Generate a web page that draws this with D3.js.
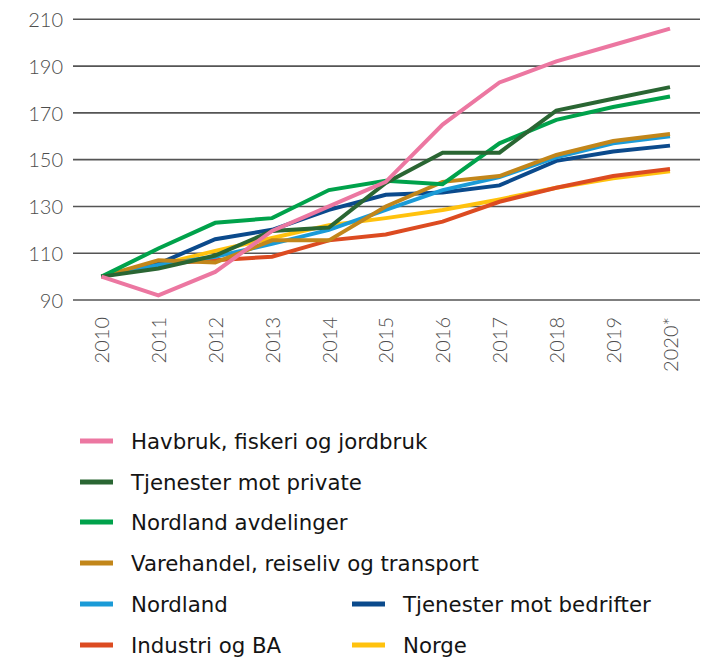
<!DOCTYPE html>
<html>
<head>
<meta charset="utf-8">
<script src="https://cdn.jsdelivr.net/npm/d3@7"></script>
<style>
  html, body { margin: 0; padding: 0; background: #fff; }
  svg { display: block; }
  .tick-label { font-family: Lato, "Open Sans", sans-serif; font-weight: 300; fill: #4d4d4d; }
  .legend-label { font-family: "DejaVu Sans", sans-serif; fill: #141414; }
</style>
</head>
<body>
<svg id="chart" width="709" height="658"></svg>
<script>
// Index series, 2010 = 100
const years = ["2010", "2011", "2012", "2013", "2014", "2015", "2016", "2017", "2018", "2019", "2020*"];
const yTicks = [90, 110, 130, 150, 170, 190, 210];

const havbruk    = [100, 92, 102, 119.5, 130, 140.5, 165, 183, 192, 199, 206];
const tjPrivate  = [100, 103.5, 109, 119.5, 121, 140, 153, 153, 171, 176, 181];
const nordAvd    = [100, 112, 123, 125, 137, 141, 139.5, 157, 167, 172.5, 177];
const varehandel = [100, 107, 106, 115.5, 115.5, 130, 140.5, 143, 152, 158, 161];
const nordland   = [100, 105, 108.5, 114, 120, 128.5, 137, 142.5, 151, 157, 160];
const tjBedrift  = [100, 105.5, 116, 120, 128.5, 135, 136, 139, 149.5, 153.5, 156];
const industri   = [100, 105.5, 107, 108.5, 115.5, 118, 123.5, 132, 138, 143, 146];
const norge      = [100, 105, 111, 116.5, 122, 125, 128.5, 133, 138, 142, 145];

const seriesNames = [
  "Havbruk, fiskeri og jordbruk",
  "Tjenester mot private",
  "Nordland avdelinger",
  "Varehandel, reiseliv og transport",
  "Nordland",
  "Tjenester mot bedrifter",
  "Industri og BA",
  "Norge"
];
const seriesValues = [havbruk, tjPrivate, nordAvd, varehandel, nordland, tjBedrift, industri, norge];
const seriesColors = ["#ec77a1", "#2a6633", "#00a24b", "#c2861a", "#1b9bd7", "#0b4a8c", "#dc4b21", "#ffc20e"];

const svg = d3.select("#chart");

const x = d3.scalePoint().domain(years).range([101.5, 670]);
const y = d3.scaleLinear().domain([90, 210]).range([300, 19.3]);

// Horizontal grid
const grid = svg.append("g");
grid.selectAll("line").data(yTicks).join("line")
  .attr("x1", 73).attr("x2", 700)
  .attr("y1", d => y(d)).attr("y2", d => y(d))
  .attr("stroke", "#555").attr("stroke-width", 1.6);

// Y axis labels
const yAxis = svg.append("g").attr("transform", "translate(73,0)")
  .call(d3.axisLeft(y).tickValues(yTicks).tickSize(0).tickPadding(10));
yAxis.select(".domain").remove();
yAxis.selectAll("text").attr("class", "tick-label").attr("font-size", 20).attr("dy", "0.36em");

// X axis labels, rotated
const xAxis = svg.append("g").attr("transform", "translate(0,300)")
  .call(d3.axisBottom(x).tickSize(0));
xAxis.select(".domain").remove();
xAxis.selectAll("text")
  .attr("class", "tick-label")
  .attr("font-size", 20)
  .attr("text-anchor", "end")
  .attr("transform", "rotate(-90)")
  .attr("x", -17).attr("y", 0).attr("dy", "0.36em");

// Lines, drawn bottom-up so the first series sits on top
const line = d3.line().x((d, i) => x(years[i])).y(d => y(d));
const order = d3.range(seriesValues.length).reverse();
svg.append("g").selectAll("path").data(order).join("path")
  .attr("d", i => line(seriesValues[i]))
  .attr("fill", "none")
  .attr("stroke", i => seriesColors[i])
  .attr("stroke-width", 4)
  .attr("stroke-linejoin", "miter");

// Legend
const legendPos = [
  [80, 441], [80, 482], [80, 522], [80, 563], [80, 604], [352, 604], [80, 645], [352, 645]
];
const legend = svg.append("g");
const items = legend.selectAll("g").data(seriesNames).join("g")
  .attr("transform", (d, i) => `translate(${legendPos[i][0]},${legendPos[i][1]})`);
items.append("line")
  .attr("x1", 0).attr("x2", 33).attr("y1", 0).attr("y2", 0)
  .attr("stroke", (d, i) => seriesColors[i]).attr("stroke-width", 5);
items.append("text")
  .attr("class", "legend-label")
  .attr("x", 51).attr("dy", "0.36em")
  .attr("font-size", 21.3)
  .text(d => d);
</script>
</body>
</html>
